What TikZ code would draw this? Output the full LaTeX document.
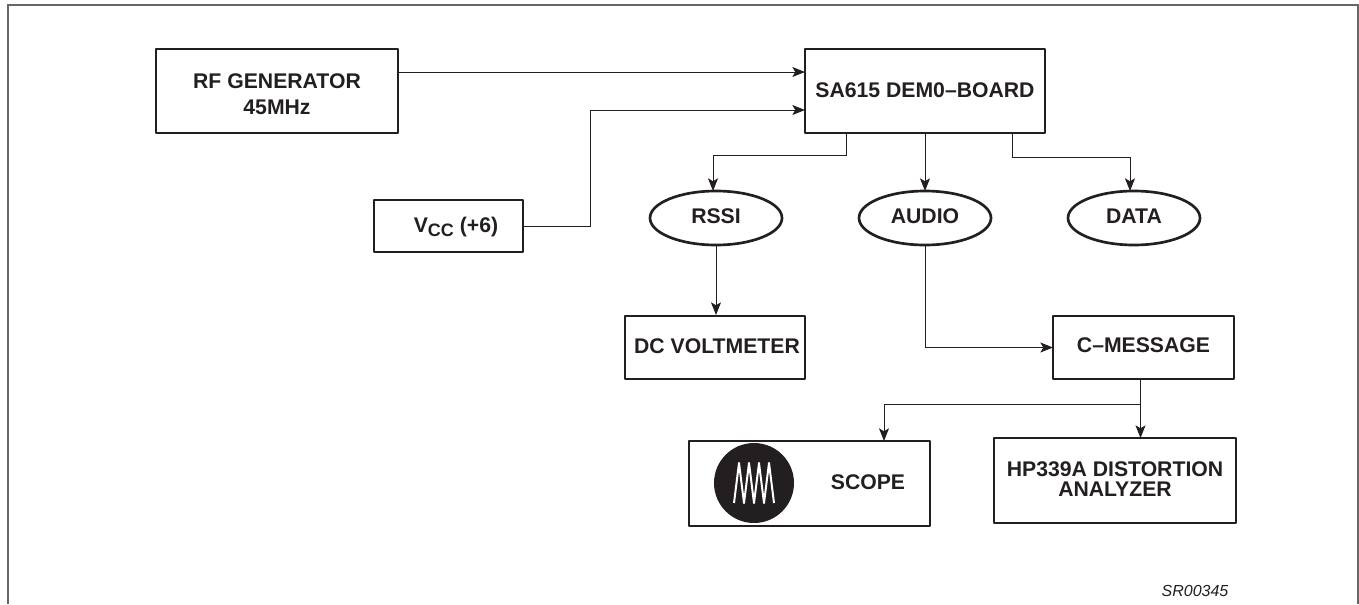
\documentclass[tikz,border=0pt]{standalone}
\usepackage{fontspec}
\setmainfont{Liberation Sans}
\usetikzlibrary{arrows.meta,shapes.geometric,positioning}
\definecolor{ink}{HTML}{231F20}
\tikzset{
  x=0.75pt,y=-0.75pt,
  every node/.style={text=ink,font=\fontsize{15.9}{15.9}\selectfont\bfseries,align=center,inner sep=0pt,outer sep=0pt},
  blockbox/.style={draw=ink,line width=2.2pt,rectangle,line join=round},
  oval/.style={draw=ink,line width=2pt,ellipse},
  conn/.style={draw=ink,line width=0.75pt,-{Stealth[length=9.5pt,width=7.5pt,inset=2.2pt]}},
  frameline/.style={draw=black!60,line width=0.8pt},
}
\begin{document}
\begin{tikzpicture}
\useasboundingbox (0,0) rectangle (1359,604);
\coordinate (fa) at (8,604);
\coordinate (fb) at (8,5);
\coordinate (fc) at (1358,5);
\coordinate (fd) at (1358,604);
\draw[frameline] (fa) -- (fb) -- (fc) -- (fd);

\node[blockbox,minimum width=181.5pt,minimum height=63pt] (rf) at (277,91) {};
\node (rflabel) at (277,94) {RF GENERATOR\\[3.5pt]45MHz};
\node[blockbox,minimum width=180pt,minimum height=63pt] (sa) at (925,91) {};
\node (salabel) at (925,90) {SA615 DEM0–BOARD};
\node[blockbox,minimum width=111.75pt,minimum height=39pt] (vcc) at (448.5,226) {};
\node (vcclabel) at (456,227) {V\raisebox{-3pt}{\fontsize{13.5}{13.5}\selectfont CC} (+6)};
\node[oval,minimum width=99pt,minimum height=40.5pt] (rssi) at (716,218) {};
\node (rssilabel) at (716,216) {RSSI};
\node[oval,minimum width=99pt,minimum height=40.5pt] (audio) at (925,218) {};
\node (audiolabel) at (925,216) {AUDIO};
\node[oval,minimum width=99pt,minimum height=40.5pt] (data) at (1134,218) {};
\node (datalabel) at (1134,216) {DATA};
\node[blockbox,minimum width=135pt,minimum height=47.25pt] (dc) at (715,347.5) {};
\node (dclabel) at (717,346.5) {DC VOLTMETER};
\node[blockbox,minimum width=135.75pt,minimum height=47.25pt] (cm) at (1143.5,347.5) {};
\node (cmlabel) at (1143.5,345) {C–MESSAGE};
\node[blockbox,minimum width=180.75pt,minimum height=63.75pt] (sc) at (809.5,483.5) {};
\node[blockbox,minimum width=181.5pt,minimum height=63.75pt] (hp) at (1115,480.5) {};
\node (hplabel) at (1115,479) {HP339A DISTORTION\\[-0.5pt]ANALYZER};
\node[circle,fill=ink,minimum size=60pt] (dial) at (754,483) {};
\node (sclabel) at (868,482) {SCOPE};
\node[font=\fontsize{12}{12}\selectfont\itshape] (code) at (1195,591) {SR00345};
\draw[white,line width=1.5pt,line join=round]
  (734,503) -- (739,463) -- (744,503) -- (749,463) -- (754,503) -- (759,463) -- (764,503) -- (769,463) -- (774,503);

\coordinate (sa1) at (sa.west |- 0,72);
\coordinate (sa2) at (sa.west |- 0,110);
\coordinate (rf1) at (rf.east |- sa1);
\coordinate (v1) at (590,226);
\coordinate (v2) at (590,110);
\coordinate (s1) at (846,133);
\coordinate (s2) at (846,155);
\coordinate (s3) at (713,155);
\coordinate (r1) at (713,191);
\coordinate (d0) at (1012,133);
\coordinate (d1) at (1012,157);
\coordinate (d2) at (1130,157);
\coordinate (d3) at (1130,191);
\coordinate (a1) at (925,133);
\coordinate (a2) at (925,191);
\coordinate (b1) at (925,245);
\coordinate (b2) at (925,347.5);
\coordinate (c0) at (1140.5,379);
\coordinate (c1) at (1140.5,404);
\coordinate (c2) at (884,404);
\coordinate (c3) at (884,441);
\coordinate (c4) at (1140.5,438);
\coordinate (rb) at (716,245);
\coordinate (rc) at (716,315);

\draw[conn] (rf1) -- (sa1);
\draw[conn] (vcc.east) -- (v1) -- (v2) -- (sa2);
\draw[conn] (s1) -- (s2) -- (s3) -- (r1);
\draw[conn] (a1) -- (a2);
\draw[conn] (d0) -- (d1) -- (d2) -- (d3);
\draw[conn] (rb) -- (rc);
\draw[conn] (b1) -- (b2) -- (cm.west);
\draw[conn] (c0) -- (c1) -- (c2) -- (c3);
\draw[conn] (c1) -- (c4);
\end{tikzpicture}
\end{document}
